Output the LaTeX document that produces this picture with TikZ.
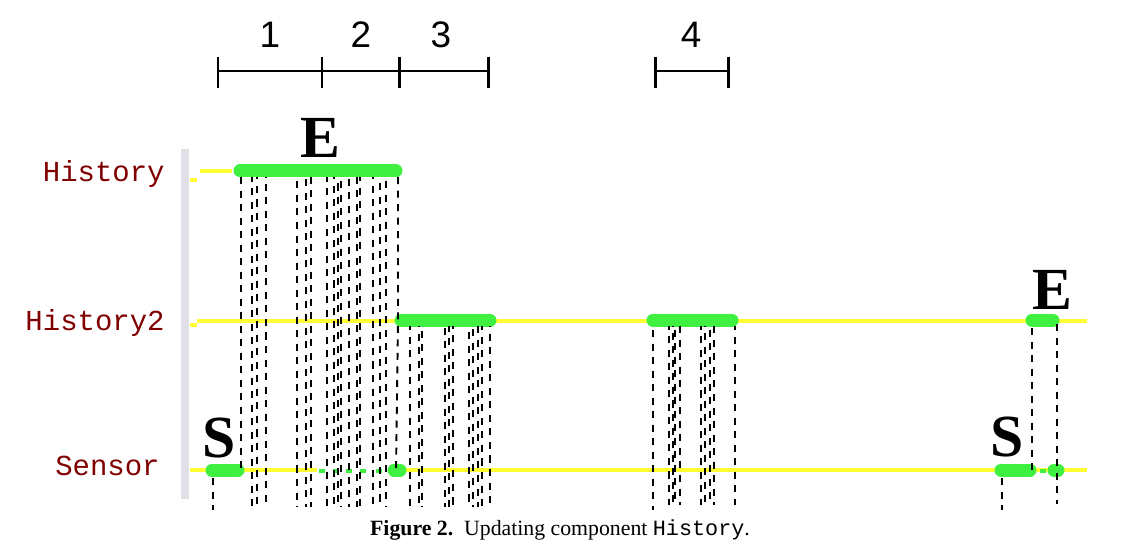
\documentclass[tikz,border=0pt]{standalone}
\usepackage{fontspec}
\setmainfont{Liberation Serif}
\setsansfont{Liberation Sans}
\setmonofont{Liberation Mono}

\definecolor{sigyellow}{RGB}{255,255,51}
\definecolor{busygreen}{RGB}{64,240,64}
\definecolor{lblred}{RGB}{128,0,0}
\definecolor{axisgrey}{RGB}{224,224,230}

\tikzset{
  sig/.style={sigyellow, line width=2.8pt},
  busy/.style={busygreen, line width=7.4pt, line cap=round},
  trace/.style={black, line width=1.1pt, dash pattern=on 4pt off 3.7pt},
  ruler/.style={line width=1.7pt},
  comp/.style={anchor=east, text=lblred, inner sep=0pt, font=\ttfamily\fontsize{16.5}{16.5}\selectfont},
  evlabel/.style={font=\bfseries\fontsize{34}{34}\selectfont, inner sep=0pt},
  num/.style={font=\sffamily\fontsize{21}{21}\selectfont, inner sep=0pt}
}

\begin{document}
\begin{tikzpicture}[x=0.02cm, y=-0.02cm]
\useasboundingbox (0,0) rectangle (1131,550);

% interval ruler
\draw[ruler] (218,71) -- (488,71);
\foreach \x in {218,322,399,488}
  \draw[ruler] (\x,57) -- (\x,88);
\draw[ruler] (655,71) -- (728,71);
\foreach \x in {655,728}
  \draw[ruler] (\x,57) -- (\x,88);
\node[num] (n1) at (270,35) {1};
\node[num] (n2) at (361,35) {2};
\node[num] (n3) at (441,35) {3};
\node[num] (n4) at (691,35) {4};

% component names
\fill[axisgrey] (181,149) rectangle (189,499);
\node[comp] (hist) at (165,174) {History};
\node[comp] (hist2) at (165,323) {History2};
\node[comp] (sens) at (160,466) {Sensor};

% signal lines
\draw[sig] (190,180) -- (197,180);
\draw[sig] (200,171) -- (232,171);
\draw[sig] (190,325) -- (197,325);
\draw[sig] (197,321) -- (1087,321);
\draw[sig] (190,470) -- (317,470);
\draw[sig] (402,470) -- (1087,470);

% busy periods
\draw[busy] (240,171) -- (396,171);
\draw[busy] (401,320) -- (490,320);
\draw[busy] (653,320) -- (732,320);
\draw[busy] (1032,320) -- (1053,320);
\draw[busy] (212,470) -- (238,470);
\draw[busy] (394,470) -- (400,470);
\draw[busy] (1001,470) -- (1030,470);
\draw[busy] (1054,470) -- (1058,470);
\foreach \x in {319,333,346,360,376}
  \draw[busygreen, line width=2.8pt] (\x,471) -- (\x+6,471);
\draw[busygreen, line width=2.8pt] (1040,471) -- (1046,471);

% traces
\draw[trace] (241,177) -- (241,468);
\foreach \x [count=\i] in {252,257,266,297,306,311,327,334,338,341,349,357,360,373,380,386}
  \draw[trace, dash phase=\i*1.3pt] (\x,177) -- (\x,507);
\draw[trace] (398,177) -- (398,322) -- (396,470);
\foreach \x [count=\i] in {410,419,422,445,449,453,469,473,478,482,490}
  \draw[trace, dash phase=\i*1.7pt] (\x,326) -- (\x,507);
\draw[trace] (653,330) -- (653,510);
\foreach \x [count=\i] in {669,673,675,680,701,705,710,714,735}
  \draw[trace, dash phase=\i*1.9pt] (\x,326) -- (\x,505);
\draw[trace] (1032,328) -- (1032,470);
\draw[trace] (1057,324) -- (1057,504);
\draw[trace] (213,478) -- (213,510);
\draw[trace] (1002,478) -- (1002,510);

% start / end marks
\node[evlabel] (e1) at (320,138) {E};
\node[evlabel] (e2) at (1052,290) {E};
\node[evlabel] (s1) at (219,438) {S};
\node[evlabel] (s2) at (1007,437) {S};

% caption
\node[font=\fontsize{12.4}{12.4}\selectfont] (cap) at (560,530)
  {\textbf{Figure 2.}\ \ Updating component \texttt{History}.};
\end{tikzpicture}
\end{document}
